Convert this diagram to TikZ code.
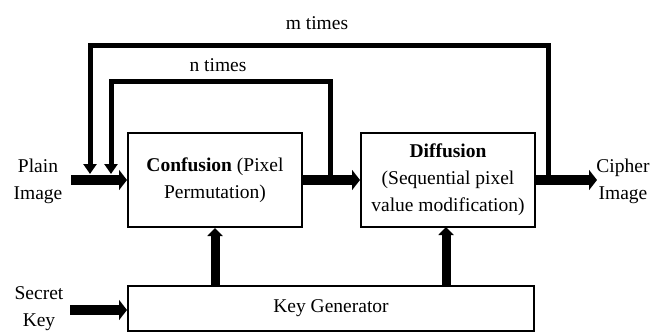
\documentclass[tikz,border=0pt]{standalone}
\usepackage{fontspec}
\setmainfont{Liberation Serif}
\usetikzlibrary{arrows.meta}
\begin{document}
\begin{tikzpicture}[x=1pt,y=-1pt,
  txt/.style={font=\fontsize{19.5}{27}\selectfont, align=center, inner sep=0pt},
  block/.style={draw, line width=2pt, inner sep=0pt, txt},
  flow/.style={line width=10pt, -{Triangle[length=8pt,width=20pt]}},
  keyflow/.style={line width=9pt, -{Triangle[length=8pt,width=15pt]}},
  loop/.style={line width=5pt, -{Triangle[length=10pt,width=13pt]}}]
\useasboundingbox (0,0) rectangle (661,333);

% processing blocks
\node[block, minimum width=174pt, minimum height=94pt] (conf) at (215,180)
  {\textbf{Confusion} (Pixel\\Permutation)};
\node[block, minimum width=174pt, minimum height=94pt] (diff) at (448,180)
  {\textbf{Diffusion}\\(Sequential pixel\\value modification)};
\node[block, minimum width=406pt, minimum height=45pt] (keygen) at (331,308.5)
  {Key Generator};

% outer labels
\node[txt] (plain) at (38,181) {Plain\\Image};
\node[txt] (cipher) at (623,181) {Cipher\\Image};
\node[txt] (secret) at (39,308.5) {Secret\\Key};
\node[txt] (mlab) at (317,23) {m times};
\node[txt] (nlab) at (218,65) {n times};

% free ends of the main data path
\coordinate (pin) at (71,180);
\coordinate (pout) at (597,180);
\coordinate (kin) at (70,310);

% main data path
\draw[flow] (pin) -- (conf.west);
\draw[flow] (conf.east) -- (diff.west);
\draw[flow] (diff.east) -- (pout);
\draw[flow] (kin) -- (kin -| keygen.west);

% key streams into both stages
\draw[keyflow] (keygen.north -| conf.south) -- (conf.south);
\draw[keyflow] (keygen.north -| 446,0) -- (446,227);

% iteration loops
\coordinate (nbranch) at (330,180);
\coordinate (mbranch) at (548,180);
\draw[loop, line join=miter] (nbranch) -- (330,81) -- (111,81) -- (111,174);
\draw[loop, line join=miter] (mbranch) -- (548,45) -- (90,45) -- (90,174);
\end{tikzpicture}
\end{document}
